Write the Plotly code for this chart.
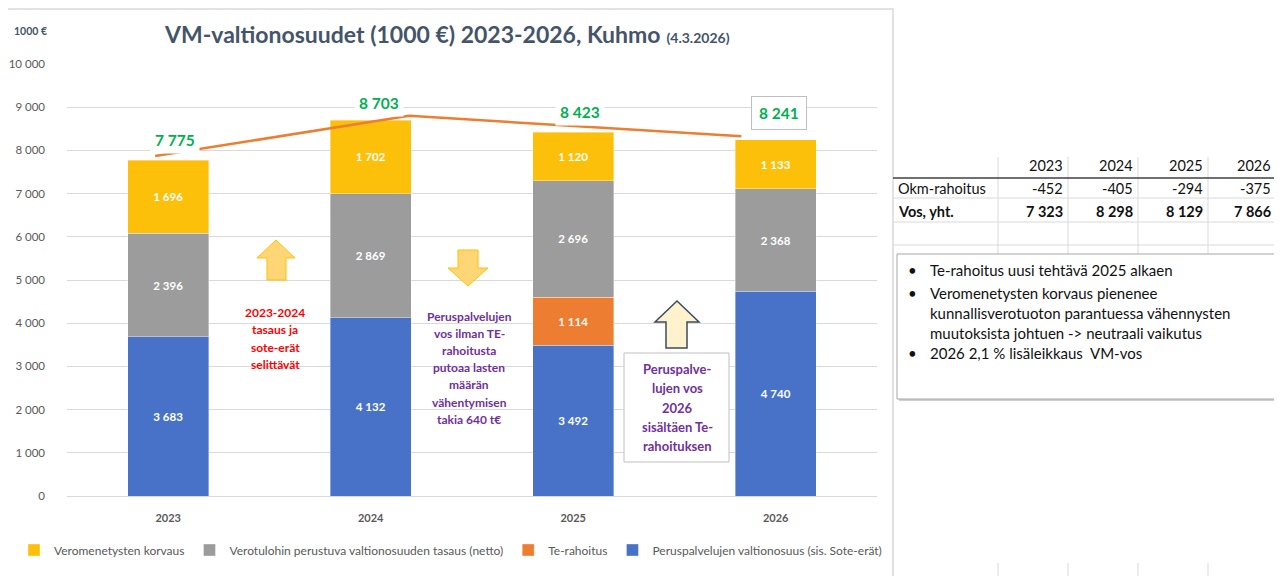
import plotly.graph_objects as go

# ---------------- data ----------------
years = ["2023", "2024", "2025", "2026"]
peruspalvelut = [3683, 4132, 3492, 4740]      # blue
te_rahoitus = [None, None, 1114, None]        # orange
tasaus = [2396, 2869, 2696, 2368]             # gray
veromenetykset = [1696, 1702, 1120, 1133]     # yellow
totals = [7775, 8703, 8423, 8241]

# hand-drawn trend line (category index, value)
trend_x = [-0.065, 1.19, 2.83]
trend_y = [7870, 8800, 8330]

okm_rahoitus = [-452, -405, -294, -375]
vos_yht = [7323, 8298, 8129, 7866]

series_names = [
    "Peruspalvelujen valtionosuus (sis. Sote-erät)",
    "Te-rahoitus",
    "Verotulohin perustuva valtionosuuden tasaus (netto)",
    "Veromenetysten korvaus",
]

note_red = ["2023-2024", "tasaus ja", "sote-erät", "selittävät"]
note_purple1 = ["Peruspalvelujen", "vos ilman TE-", "rahoitusta", "putoaa lasten",
                "määrän", "vähentymisen", "takia 640 t€"]
note_purple2 = ["Peruspalve-", "lujen vos", "2026", "sisältäen Te-", "rahoituksen"]
bullets = ["Te-rahoitus uusi tehtävä 2025 alkaen",
           "Veromenetysten korvaus pienenee",
           "kunnallisverotuoton parantuessa vähennysten",
           "muutoksista johtuen -> neutraali vaikutus",
           "2026 2,1 % lisäleikkaus  VM-vos"]

# ---------------- helpers ----------------
# the page body has an 8 px margin, so the figure is made 8 px smaller and
# all reference pixel positions are shifted by that offset
OFF = 8
W, H = 1282 - OFF, 576 - OFF
FONT = "Lato"


def px(x):
    return (x - OFF) / W


def py(y):
    return 1 - (y - OFF) / H


def fmt(v):
    return "" if v is None else f"{v:,}".replace(",", " ")


def note(x, y, text, font, xa="center", ya="middle", **kw):
    d = dict(xref="paper", yref="paper", x=px(x), y=py(y), showarrow=False,
             text=text, font=font, xanchor=xa, yanchor=ya)
    d.update(kw)
    return d


xs = list(range(len(years)))
colors = ["#4872c8", "#ed7d31", "#9c9c9c", "#fcc00a"]
values = [peruspalvelut, te_rahoitus, tasaus, veromenetykset]

fig = go.Figure()
for name, vals, col in zip(series_names, values, colors):
    fig.add_trace(go.Bar(
        x=xs, y=vals, name=name, width=0.4,
        marker=dict(color=col, line=dict(width=0.6, color="rgba(255,255,255,0.6)")),
        text=[fmt(v) for v in vals],
        textposition="inside", insidetextanchor="middle", textangle=0,
        constraintext="none",
        textfont=dict(family=FONT, size=11.5, color="white", weight="bold"),
        hoverinfo="skip",
    ))

fig.add_trace(go.Scatter(
    x=trend_x, y=trend_y, mode="lines",
    line=dict(color="#ed7d31", width=2.5), showlegend=False, hoverinfo="skip",
))

shapes = []
ann = []

# chart border
shapes.append(dict(type="rect", xref="paper", yref="paper",
                   x0=px(2), x1=px(893), y0=py(580), y1=py(9),
                   line=dict(color="#d9d9d9", width=1.5), layer="below"))

# white box behind purple note between 2024 and 2025 bars
shapes.append(dict(type="rect", xref="paper", yref="paper",
                   x0=px(410), x1=px(529), y0=py(432), y1=py(300),
                   fillcolor="white", line=dict(width=0), layer="between"))


def poly(pts):
    return "M " + " L ".join(f"{px(a):.5f},{py(b):.5f}" for a, b in pts) + " Z"


up1 = [(276, 240), (295, 258), (286, 258), (286, 280), (267, 280), (267, 258), (257, 258)]
down1 = [(458, 250), (478, 250), (478, 268), (488, 268), (468, 286), (448, 268), (458, 268)]
up2 = [(677, 301), (699, 322), (687, 322), (687, 348), (666, 348), (666, 322), (655, 322)]
for pts in (up1, down1):
    shapes.append(dict(type="path", xref="paper", yref="paper", path=poly(pts),
                       fillcolor="#ffd676", line=dict(color="#ffc000", width=1), layer="above"))
shapes.append(dict(type="path", xref="paper", yref="paper", path=poly(up2),
                   fillcolor="#fff2cc", line=dict(color="#3b4a63", width=1.5), layer="above"))

# purple box 2
shapes.append(dict(type="rect", xref="paper", yref="paper",
                   x0=px(624), x1=px(729), y0=py(462), y1=py(353),
                   fillcolor="white", line=dict(color="#bfbfbf", width=1), layer="above"))

# title
ann.append(note(447, 34,
                "<b>VM-valtionosuudet (1000 €) 2023-2026, Kuhmo</b> "
                "<span style='font-size:14px'><b>(4.3.2026)</b></span>",
                dict(family=FONT, size=23, color="#44546a")))
ann.append(note(12, 31, "<b>1000 €</b>", dict(family=FONT, size=10.5, color="#44546a"), xa="left"))

# total labels
xshift = [7, 8, 7, 3]
yshift = [20, 17, 20, 27]
for i, t in enumerate(totals):
    d = dict(xref="x", yref="y", x=xs[i], y=t, showarrow=False,
             xanchor="center", yanchor="middle",
             text=f"<b>{fmt(t)}</b>", xshift=xshift[i], yshift=yshift[i],
             font=dict(family=FONT, size=15.5, color="#00b050"),
             bgcolor="white", borderpad=4)
    if i == 3:
        d.update(bordercolor="#bfbfbf", borderwidth=1, borderpad=7)
    ann.append(d)


def lines(texts, x, y0, dy, size, color):
    for k, t in enumerate(texts):
        ann.append(note(x, y0 + k * dy, f"<b>{t}</b>", dict(family=FONT, size=size, color=color)))


lines(note_red, 275, 312, 17.5, 12, "#ff0000")
lines(note_purple1, 469, 316, 17.2, 12, "#7030a0")
lines(note_purple2, 677, 369, 19.3, 13, "#7030a0")

# ---------------- right side: spreadsheet table ----------------
col_lines = [998, 1068, 1138, 1208, 1278]
for cx in col_lines:
    shapes.append(dict(type="line", xref="paper", yref="paper",
                       x0=px(cx), x1=px(cx), y0=py(157), y1=py(256),
                       line=dict(color="#d9d9d9", width=1)))
    shapes.append(dict(type="line", xref="paper", yref="paper",
                       x0=px(cx), x1=px(cx), y0=py(563), y1=py(576),
                       line=dict(color="#d9d9d9", width=1)))
for ry in (198, 222, 245):
    shapes.append(dict(type="line", xref="paper", yref="paper",
                       x0=px(893), x1=px(1282), y0=py(ry), y1=py(ry),
                       line=dict(color="#d9d9d9", width=1)))
shapes.append(dict(type="line", xref="paper", yref="paper",
                   x0=px(893), x1=px(1282), y0=py(178), y1=py(178),
                   line=dict(color="#404040", width=1.5)))

col_right = [1065, 1135, 1205, 1273]
TBL = dict(family=FONT, size=14.5, color="#111111")
for j, yr in enumerate(years):
    ann.append(note(col_right[j], 166, yr, TBL, xa="right"))
    ann.append(note(col_right[j], 188, fmt(okm_rahoitus[j]), TBL, xa="right"))
    ann.append(note(col_right[j], 211, f"<b>{fmt(vos_yht[j])}</b>", TBL, xa="right"))
ann.append(note(896, 188, "Okm-rahoitus", TBL, xa="left"))
ann.append(note(896, 211, "<b>Vos, yht.</b>", TBL, xa="left"))

# text box with bullets
shapes.append(dict(type="rect", xref="paper", yref="paper",
                   x0=px(899), x1=px(1280), y0=py(401), y1=py(256),
                   fillcolor="#d0d0d0", line=dict(width=0), layer="above"))
shapes.append(dict(type="rect", xref="paper", yref="paper",
                   x0=px(897), x1=px(1278), y0=py(399), y1=py(254),
                   fillcolor="white", line=dict(color="#a6a6a6", width=1), layer="above"))
bullet_y = [270, 293, 313, 333, 353]
bullet_has = [True, True, False, False, True]
BF = dict(family=FONT, size=15, color="#111111")
for t, yy, hb in zip(bullets, bullet_y, bullet_has):
    if hb:
        ann.append(note(906, yy, "•", BF, xa="left"))
    ann.append(note(928, yy, t, BF, xa="left"))

fig.update_layout(
    template="none",
    width=W, height=H, autosize=False,
    margin=dict(l=0, r=0, t=0, b=0, pad=0, autoexpand=False),
    paper_bgcolor="white", plot_bgcolor="white",
    barmode="stack",
    separators=", ",
    font=dict(family=FONT, color="#595959"),
    showlegend=True,
    legend=dict(orientation="h", x=px(14), y=py(550), xanchor="left", yanchor="middle",
                traceorder="reversed", font=dict(family=FONT, size=12, color="#595959"),
                itemwidth=30, bgcolor="rgba(0,0,0,0)"),
    xaxis=dict(domain=[px(67), px(877)], range=[-0.5, 3.5], tickmode="array",
               tickvals=xs, ticktext=[f"<b>{y}</b>" for y in years],
               showgrid=False, zeroline=False, showline=True, linecolor="#d9d9d9",
               ticks="", tickfont=dict(family=FONT, size=11, color="#595959"),
               ticklabelstandoff=12, fixedrange=True, automargin=False),
    yaxis=dict(domain=[py(496), py(64)], range=[0, 10000], dtick=1000, tickformat=",d",
               showgrid=True, gridcolor="#d9d9d9", gridwidth=1,
               zeroline=False, showline=False, ticks="",
               tickfont=dict(family=FONT, size=11.5, color="#595959"),
               ticklabelstandoff=21, fixedrange=True, automargin=False),
    shapes=shapes, annotations=ann,
    hovermode=False,
)

fig.write_html("out.html")
